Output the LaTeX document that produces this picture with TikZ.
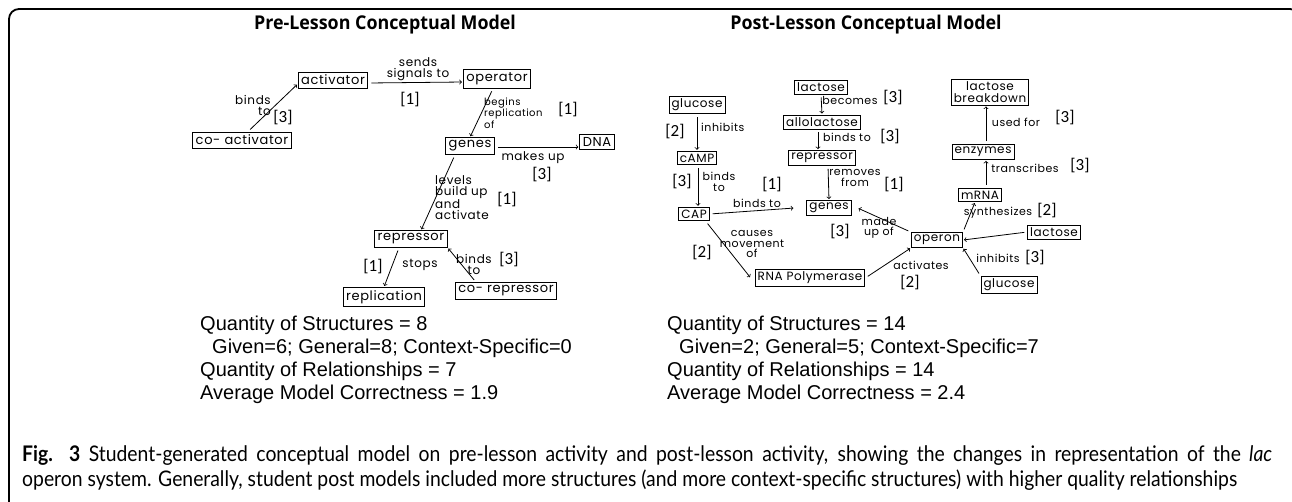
\documentclass[tikz,border=0pt]{standalone}
\usepackage{fontspec}
\usepackage{tikz}
\setmainfont{Liberation Sans}
\newfontfamily\handfont[LetterSpace=5]{Poppins}
\newfontfamily\headfont[FakeStretch=0.94]{Open Sans}
\newfontfamily\scorefont{Carlito}
\newfontfamily\capfont[FakeStretch=0.9]{Lato}

\tikzset{
  part/.style={draw, line width=0.9pt, inner sep=2.5pt, font=\handfont\fontsize{12}{12}\selectfont},
  bigpart/.style={part, inner sep=3pt, font=\handfont\fontsize{13}{13}\selectfont},
  rel/.style={->, >=to, line width=0.8pt, shorten <=3pt, shorten >=1pt},
  verb/.style={inner sep=0pt, align=center, font=\handfont\fontsize{11}{10.5}\selectfont},
  bigverb/.style={verb, font=\handfont\fontsize{12}{11}\selectfont},
  score/.style={inner sep=0pt, font=\scorefont\fontsize{17}{17}\selectfont},
  heading/.style={font=\headfont\bfseries\fontsize{19}{19}\selectfont},
  stat/.style={anchor=north west, inner sep=0pt, align=left, font=\fontsize{20}{23}\selectfont},
}

\begin{document}
\begin{tikzpicture}[x=1pt, y=-1pt]
\useasboundingbox (0,0) rectangle (1292,501);
\clip (0,0) rectangle (1292,501);
\draw[line width=1.8pt, rounded corners=10pt] (9,520) -- (9,9) -- (1300,9) -- (1300,520);

% headings
\node[heading] (pretitle) at (385,25) {Pre-Lesson Conceptual Model};
\node[heading] (posttitle) at (866,25) {Post-Lesson Conceptual Model};

% pre-lesson model
\node[bigpart] (coact) at (242,140) {co- activator};
\node[bigpart] (act) at (333,80) {activator};
\node[bigpart] (opr) at (497,79) {operator};
\node[bigpart] (gen) at (470,146) {genes};
\node[bigpart] (dna) at (597,142) {DNA};
\node[bigpart] (rep) at (411,239) {repressor};
\node[bigpart] (repl) at (384,297) {replication};
\node[bigpart] (corep) at (506,291) {co- repressor};

\draw[rel] ([xshift=6pt]coact.north) -- ([yshift=-4pt]act.west);
\draw[rel] ([yshift=-3pt]act.east) -- ([yshift=-3pt]opr.west);
\draw[rel] ([xshift=-4pt]opr.south) -- (gen.north);
\draw[rel] ([yshift=-1pt]gen.east) -- ([yshift=-5pt]dna.west);
\draw[rel] ([xshift=-15pt]gen.south) -- ([xshift=10pt]rep.north);
\draw[rel] ([xshift=-12pt]rep.south) -- (repl.north);
\draw[rel] ([xshift=-30pt]corep.north) -- (rep.south east);

\node[bigverb, align=right] (v1) at (253,105) {binds\\to};
\node[score] (s1) at (283,118) {[3]};
\node[bigverb] (v2) at (418,69) {sends\\signals to};
\node[score] (s2) at (410,100) {[1]};
\node[verb, align=left, anchor=west, font=\handfont\fontsize{10}{8.5}\selectfont] (v3) at (484,113) {begins\\replication\\of};
\node[score] (s3) at (568,110) {[1]};
\node[bigverb] (v4) at (533,158) {makes up};
\node[score] (s4) at (542,175) {[3]};
\node[bigverb, align=left, anchor=west] (v5) at (435,198) {levels\\build up\\and\\activate};
\node[score] (s5) at (507,200) {[1]};
\node[bigverb] (v6) at (420,265) {stops};
\node[score] (s6) at (373,267) {[1]};
\node[bigverb] (v7) at (474,264) {binds\\to};
\node[score] (s7) at (509,260) {[3]};

% post-lesson model
\node[part] (glu) at (697,105) {glucose};
\node[part] (camp) at (697,158) {cAMP};
\node[part] (cap) at (694,214) {CAP};
\node[part] (lac) at (821,87) {lactose};
\node[part] (allo) at (822,122) {allolactose};
\node[part] (prep) at (822,158) {repressor};
\node[part] (pgen) at (829,208) {genes};
\node[part] (rnap) at (810,278) {RNA Polymerase};
\node[part] (opn) at (937,240) {operon};
\node[part, align=center] (lbd) at (990,92) {lactose\\breakdown};
\node[part] (enz) at (983,152) {enzymes};
\node[part] (mrna) at (980,195) {mRNA};
\node[part] (lac2) at (1054,232) {lactose};
\node[part] (glu2) at (1009,285) {glucose};

\draw[rel] (glu.south) -- (camp.north);
\draw[rel] (lac.south) -- (allo.north);
\draw[rel] ([xshift=-4pt]allo.south) -- ([xshift=-4pt]prep.north);
\draw[rel] ([xshift=6pt]prep.south) -- (pgen.north);
\draw[rel] ([xshift=1pt]camp.south) -- ([xshift=4pt]cap.north);
\draw[rel] (cap.east) -- ([xshift=-12pt]pgen.west);
\draw[rel] ([xshift=-4pt]cap.south east) -- ([xshift=-4pt]rnap.west);
\draw[rel] (rnap.east) -- (opn.south west);
\draw[rel] (opn.north west) -- ([xshift=6pt]pgen.east);
\draw[rel] (opn.north east) -- ([xshift=-5pt]mrna.south);
\draw[rel] ([xshift=6pt]mrna.north) -- ([xshift=3pt]enz.south);
\draw[rel] ([xshift=3pt]enz.north) -- ([xshift=-4pt]lbd.south);
\draw[rel] (lac2.west) -- (opn.east);
\draw[rel] (glu2.north west) -- (opn.south east);

\node[score] (t1) at (675,132) {[2]};
\node[verb, anchor=west] (w1) at (701,127) {inhibits};
\node[verb] (w2) at (850,100) {becomes};
\node[score] (t2) at (893,98) {[3]};
\node[verb] (w3) at (847,137) {binds to};
\node[score] (t3) at (890,137) {[3]};
\node[verb] (w4) at (855,178) {removes\\from};
\node[score] (t4) at (894,185) {[1]};
\node[verb] (w5) at (719,182) {binds\\to};
\node[score] (t5) at (682,182) {[3]};
\node[verb] (w6) at (757,203) {binds to};
\node[score] (t6) at (772,185) {[1]};
\node[verb] (w7) at (752,244) {causes\\movement\\of};
\node[score] (t7) at (702,253) {[2]};
\node[verb] (w8) at (921,265) {activates};
\node[score] (t8) at (910,283) {[2]};
\node[verb] (w9) at (879,228) {made\\up of};
\node[score] (t9) at (840,232) {[3]};
\node[verb] (w10) at (1016,122) {used for};
\node[score] (t10) at (1065,118) {[3]};
\node[verb] (w11) at (1025,168) {transcribes};
\node[score] (t11) at (1080,166) {[3]};
\node[verb] (w12) at (998,213) {synthesizes};
\node[score] (t12) at (1047,211) {[2]};
\node[verb] (w13) at (998,258) {inhibits};
\node[score] (t13) at (1035,258) {[3]};

% counts
\node[stat] (prestat) at (200,316) {Quantity of Structures = 8\\\hspace*{12pt}Given=6; General=8; Context-Specific=0\\Quantity of Relationships = 7\\Average Model Correctness = 1.9};
\node[stat] (poststat) at (667,316) {Quantity of Structures = 14\\\hspace*{12pt}Given=2; General=5; Context-Specific=7\\Quantity of Relationships = 14\\Average Model Correctness = 2.4};

% caption
\node[anchor=north west, inner sep=0pt, text width=1250pt, align=justify, font=\capfont\fontsize{21.5}{25}\selectfont] (caption) at (22,445) {\parfillskip=0pt\relax\textbf{Fig. 3} Student-generated conceptual model on pre-lesson activity and post-lesson activity, showing the changes in representation of the \textit{lac}\linebreak operon system. Generally, student post models included more structures (and more context-specific structures) with higher quality relationships};
\end{tikzpicture}
\end{document}
